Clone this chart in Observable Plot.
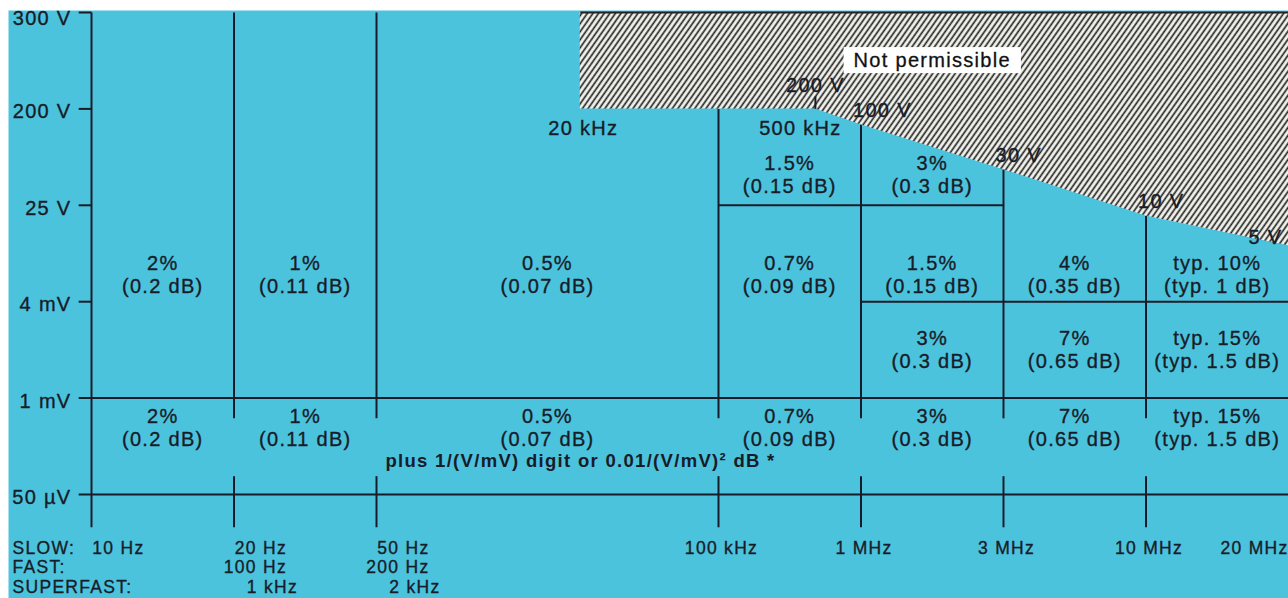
<!DOCTYPE html>
<html>
<head>
<meta charset="utf-8">
<script src="https://cdn.jsdelivr.net/npm/d3@7"></script>
<script src="https://cdn.jsdelivr.net/npm/@observablehq/plot@0.6"></script>
<style>
  html, body { margin: 0; padding: 0; background: #ffffff; }
  #chart svg { display: block; }
</style>
</head>
<body>
<div id="chart"></div>
<script>
// ---------------- data ----------------
// frequency axis (grid slots along the horizontal axis)
const freqLabels = ["10 Hz", "20 Hz", "50 Hz", "100 kHz", "1 MHz", "3 MHz", "10 MHz", "20 MHz"];
const freqPos    = [0, 1, 2, 4.4, 5.4, 6.4, 7.4, 8.4];
const fastLabels = ["", "100 Hz", "200 Hz"];
const superfastLabels = ["", "1 kHz", "2 kHz"];
const modeLabels = ["SLOW:", "FAST:", "SUPERFAST:"];

// voltage axis (levels)
const levelLabels = ["50 µV", "1 mV", "4 mV", "25 V", "200 V", "300 V"];
const levelPos    = [0, 1, 2, 3, 4, 5];

// permissible-voltage limit
const hfStartLabel = "20 kHz";
const hfStartPos   = 3.43;
const limitLabels   = ["200 V", "100 V", "30 V", "10 V", "5 V"];
const limitFreqPos  = [5.08, 5.4, 6.4, 7.4, 8.4];
const limitLevel    = [4, 3.835, 3.37, 2.89, 2.58];
const limitFreqLabel = "500 kHz";
const notPermissible = "Not permissible";

// accuracy per cell (column index = slot between successive frequency ticks)
const mainCols = [0, 1, 2, 3, 4, 5, 6];
const mainPct  = ["2%", "1%", "0.5%", "0.7%", "1.5%", "4%", "typ. 10%"];
const mainDb   = ["(0.2 dB)", "(0.11 dB)", "(0.07 dB)", "(0.09 dB)", "(0.15 dB)", "(0.35 dB)", "(typ. 1 dB)"];
const highCols = [3, 4];
const highPct  = ["1.5%", "3%"];
const highDb   = ["(0.15 dB)", "(0.3 dB)"];
const midCols  = [4, 5, 6];
const midPct   = ["3%", "7%", "typ. 15%"];
const midDb    = ["(0.3 dB)", "(0.65 dB)", "(typ. 1.5 dB)"];
const lowCols  = [0, 1, 2, 3, 4, 5, 6];
const lowPct   = ["2%", "1%", "0.5%", "0.7%", "3%", "7%", "typ. 15%"];
const lowDb    = ["(0.2 dB)", "(0.11 dB)", "(0.07 dB)", "(0.09 dB)", "(0.3 dB)", "(0.65 dB)", "(typ. 1.5 dB)"];
const footNote = "plus 1/(V/mV) digit or 0.01/(V/mV)² dB *";

// ---------------- layout / style ----------------
const W = 1288, H = 598;
const cyan = "#4cc3dd";
const ink = "#181c28";
const FONT = "Liberation Sans, Arial, Helvetica, sans-serif";
const FS = 20;
const TOP = 5, BOTTOM_TICK = -0.34, GAP_LO = 0.19, GAP_HI = 0.79, Y_TICK_LEFT = -0.09;
const RIGHT = freqPos[freqPos.length - 1];
const rowY = [-0.56, -0.757, -0.965];
const bandY = {high: 3.32, main: 2.29, mid: 1.51, low: 0.70};

const limitScale = d3.scaleLinear()
  .domain([hfStartPos, ...limitFreqPos])
  .range([limitLevel[0], ...limitLevel])
  .clamp(true);
const topAt = p => (p < hfStartPos ? TOP : limitScale(p));
const colCenter = c => (freqPos[c] + freqPos[c + 1]) / 2;

// grid segments
const segs = [];
segs.push({x1: 0, x2: 0, y1: BOTTOM_TICK, y2: TOP});
levelPos.forEach(l => {
  if (l >= 2) segs.push({x1: Y_TICK_LEFT, x2: 0, y1: l, y2: l});
  else segs.push({x1: Y_TICK_LEFT, x2: RIGHT, y1: l, y2: l});
});
freqPos.slice(1, 7).forEach(p => {
  segs.push({x1: p, x2: p, y1: GAP_HI, y2: topAt(p)});
  segs.push({x1: p, x2: p, y1: BOTTOM_TICK, y2: GAP_LO});
});
segs.push({x1: freqPos[3], x2: freqPos[5], y1: 3, y2: 3});
segs.push({x1: freqPos[4], x2: freqPos[7], y1: 2, y2: 2});
segs.push({x1: limitFreqPos[0], x2: limitFreqPos[0], y1: limitLevel[0], y2: limitLevel[0] + 0.13});

const hatchPts = [hfStartPos, ...limitFreqPos].map((p, i) => ({x: p, y: i === 0 ? limitLevel[0] : limitLevel[i - 1]}));

const cells = [];
const addBand = (cols, pct, db, band) => cols.forEach((c, i) =>
  cells.push({x: colCenter(c), y: bandY[band], text: pct[i] + "\n" + db[i]}));
addBand(mainCols, mainPct, mainDb, "main");
addBand(highCols, highPct, highDb, "high");
addBand(midCols, midPct, midDb, "mid");
addBand(lowCols, lowPct, lowDb, "low");

const txt = {fill: ink, fontSize: FS, stroke: ink, strokeWidth: 0.35};
const axTxt = {fill: ink, fontSize: 17.5, stroke: ink, strokeWidth: 0.35, letterSpacing: "1.9px"};

const svg = Plot.plot({
  width: W,
  height: H,
  marginTop: 0, marginRight: 0, marginBottom: 0, marginLeft: 0,
  x: {type: "linear", domain: [0, RIGHT], range: [91, 1288], axis: null},
  y: {type: "linear", domain: [0, TOP], range: [494, 12], axis: null},
  style: {fontFamily: FONT, letterSpacing: "1.3px", background: "#ffffff", color: ink},
  marks: [
    Plot.frame({fill: cyan, stroke: null, insetLeft: 8, insetTop: 10}),
    Plot.areaY(hatchPts, {x: "x", y1: "y", y2: () => TOP, fill: "url(#hatch)", curve: "linear"}),
    Plot.link([{a: hfStartPos, b: RIGHT}], {x1: "a", x2: "b", y1: () => TOP, y2: () => TOP, stroke: "#222", strokeWidth: 2}),
    Plot.link(segs, {x1: "x1", x2: "x2", y1: "y1", y2: "y2", stroke: ink, strokeWidth: 2}),
    // accuracy cells
    Plot.text(cells, {x: "x", y: "y", text: "text", lineHeight: 1.15, ...txt}),
    Plot.text([footNote], {x: () => colCenter(2), y: () => 0.35, dx: 33, fontWeight: "bold", fill: ink, fontSize: 18.5, letterSpacing: "0.5px"}),
    // voltage axis labels
    Plot.text(levelLabels.slice(0, 5), {x: () => 0, y: (d, i) => levelPos[i], dx: -20, dy: 3, textAnchor: "end", ...txt}),
    Plot.text(levelLabels.slice(5), {x: () => 0, y: () => levelPos[5], dx: -20, dy: 6, textAnchor: "end", ...txt}),
    // frequency axis labels
    Plot.text(freqLabels.slice(0, 3), {x: (d, i) => freqPos[i], y: () => rowY[0], dx: 53, textAnchor: "end", ...axTxt}),
    Plot.text(freqLabels.slice(3, 7), {x: (d, i) => freqPos[i + 3], y: () => rowY[0], dx: 3, textAnchor: "middle", ...axTxt}),
    Plot.text(freqLabels.slice(7), {x: () => freqPos[7], y: () => rowY[0], dx: 0, textAnchor: "end", ...axTxt}),
    Plot.text(fastLabels, {x: (d, i) => freqPos[i], y: () => rowY[1], dx: 53, textAnchor: "end", ...axTxt}),
    Plot.text(superfastLabels, {x: (d, i) => freqPos[i], y: () => rowY[2], dx: 64, textAnchor: "end", ...axTxt}),
    Plot.text(modeLabels, {y: (d, i) => rowY[i], frameAnchor: "left", dx: 12, textAnchor: "start", ...axTxt}),
    // limit labels
    Plot.text([hfStartLabel], {x: () => hfStartPos, y: () => limitLevel[0], dx: 3, dy: 20, ...txt}),
    Plot.text([limitFreqLabel], {x: () => limitFreqPos[0], y: () => limitLevel[0], dx: -15, dy: 20, ...txt}),
    Plot.text(limitLabels.slice(0, 1), {x: () => limitFreqPos[0], y: () => limitLevel[0], dy: -23, ...txt}),
    Plot.text(limitLabels.slice(1, 4), {x: (d, i) => limitFreqPos[i + 1], y: (d, i) => limitLevel[i + 1], dx: -8, dy: -14, textAnchor: "start", ...txt}),
    Plot.text(limitLabels.slice(4), {x: () => limitFreqPos[4], y: () => limitLevel[4], dx: -6, dy: -8, textAnchor: "end", ...txt}),
    Plot.text([notPermissible], {x: () => (limitFreqPos[1] + limitFreqPos[2]) / 2, y: () => 4.5, fill: "#111", fontSize: FS, letterSpacing: "0px", stroke: "#111", strokeWidth: 0.3})
  ]
});

// hatch pattern
const defs = document.createElementNS("http://www.w3.org/2000/svg", "defs");
defs.innerHTML = `<pattern id="hatch" patternUnits="userSpaceOnUse" width="4.6" height="12" patternTransform="rotate(35)">
  <rect width="4.6" height="12" fill="#f3f3ee"></rect>
  <line x1="1.2" y1="0" x2="1.2" y2="12" stroke="#262626" stroke-width="1.7"></line>
</pattern>`;
svg.insertBefore(defs, svg.firstChild);

document.getElementById("chart").appendChild(svg);

// white box behind "Not permissible"
d3.select(svg).selectAll("text").filter(function() { return this.textContent === notPermissible; })
  .each(function() {
    const b = this.getBBox();
    const g = this.parentNode;
    d3.select(g).insert("rect", () => this)
      .attr("transform", this.getAttribute("transform"))
      .attr("x", b.x - 10).attr("y", b.y - 2).attr("width", b.width + 20).attr("height", b.height + 4)
      .attr("fill", "#ffffff").attr("stroke", "none");
  });
</script>
</body>
</html>
